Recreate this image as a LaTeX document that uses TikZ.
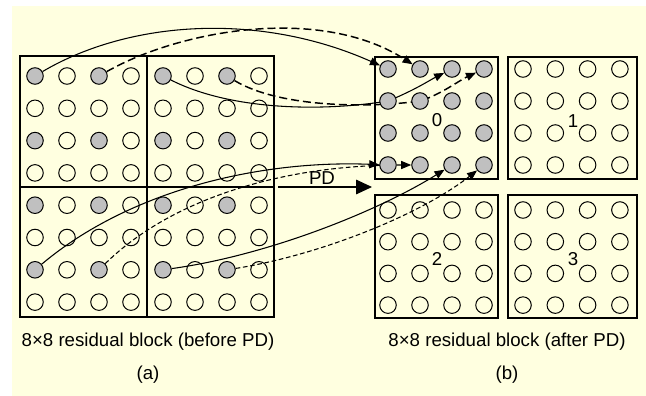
\documentclass[tikz,border=0pt]{standalone}
\usepackage{fontspec}
\setmainfont{Liberation Sans}
\usetikzlibrary{arrows.meta}
\pgfdeclarelayer{bg}
\pgfdeclarelayer{conn}
\pgfsetlayers{bg,conn,main}
\definecolor{bgyellow}{RGB}{255,255,224}
\definecolor{dotgray}{RGB}{192,192,192}
\begin{document}
\begin{tikzpicture}[x=0.75pt,y=-0.75pt,
  dot/.style={circle,draw=black,line width=0.75pt,minimum size=12.4pt,inner sep=0pt},
  hot/.style={dot,fill=dotgray},
  blk/.style={draw=black,line width=1pt},
  link/.style={line width=0.8pt,-{Triangle[length=7.5pt,width=6pt]}},
  bigdash/.style={dash pattern=on 6pt off 3pt,line width=1.1pt},
  smalldash/.style={dash pattern=on 3.5pt off 2pt},
  lbl/.style={font=\fontsize{14}{16}\selectfont,inner sep=0pt}
]
\useasboundingbox (0,0) rectangle (646,396);
\begin{pgfonlayer}{bg}
\fill[bgyellow] (12,6) rectangle (646,396);
\end{pgfonlayer}

% left 8x8 block
\draw[blk] (20,56) rectangle (274,317);
\draw[blk] (147,56) -- (147,317);
\draw[blk] (20,187) -- (274,187);
\foreach \r in {0,...,7}{
  \foreach \c in {0,...,7}{
    \pgfmathtruncatemacro\ishot{(mod(\r,2)==0)*(mod(\c,2)==0)}
    \ifnum\ishot=1
      \node[hot] (a\r\c) at ({35+32*\c},{76+32.3*\r}) {};
    \else
      \node[dot] (a\r\c) at ({35+32*\c},{76+32.3*\r}) {};
    \fi
  }
}

% right four 4x4 blocks
\draw[blk] (375,57) rectangle (498,179);
\draw[blk] (508,57) rectangle (637,179);
\draw[blk] (375,195) rectangle (498,318);
\draw[blk] (508,195) rectangle (637,318);
\foreach \b/\ox/\oy/\sx/\sy/\st in {0/388/69/32/32/hot,1/523/69/32.3/32/dot,2/388/210/32/31.7/dot,3/523/210/32.3/31.7/dot}{
  \foreach \r in {0,...,3}{
    \foreach \c in {0,...,3}{
      \node[\st] (b\b\r\c) at ({\ox+\sx*\c},{\oy+\sy*\r}) {};
    }
  }
}
\node[lbl] (n0) at (437,120) {0};
\node[lbl] (n1) at (573,121) {1};
\node[lbl] (n2) at (437,259) {2};
\node[lbl] (n3) at (573,259) {3};

% PD arrow
\coordinate (pds) at (278,187);
\coordinate (pde) at (372,187);
\draw[line width=0.8pt,-{Triangle[length=12pt,width=11pt]}] (pds) -- (pde);
\node[lbl] (pd) at (322,178) {PD};

% connectors
\begin{pgfonlayer}{conn}
\draw[link] (a00) .. controls (130,20) and (260,12) .. (b000);
\draw[link,bigdash] (a02) .. controls (180,30) and (320,5) .. (b001);
\draw[link] (a04) .. controls (230,110) and (320,112) .. (b010.center) .. controls (415,90) and (430,80) .. (b002);
\draw[link,bigdash] (a06) .. controls (280,108) and (370,108) .. (b011.center) .. controls (440,95) and (460,80) .. (b003);
\draw[link] (a60) .. controls (130,190) and (260,160) .. (b030);
\draw[link,smalldash] (a62) .. controls (170,200) and (280,165) .. (b031);
\draw[link] (a64) .. controls (270,255) and (380,210) .. (b032);
\draw[link,smalldash] (a66) .. controls (320,255) and (420,215) .. (b033);
\end{pgfonlayer}

% captions
\node[lbl] (capa) at (148,342) {8×8 residual block (before PD)};
\node[lbl] (suba) at (148,375) {(a)};
\node[lbl] (capb) at (507,342) {8×8 residual block (after PD)};
\node[lbl] (subb) at (507,375) {(b)};
\end{tikzpicture}
\end{document}
